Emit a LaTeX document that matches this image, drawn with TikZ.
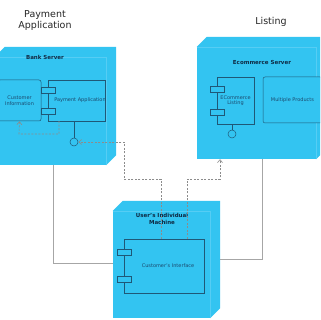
\documentclass[tikz,border=0pt]{standalone}
\usepackage{fontspec}
\setmainfont{DejaVu Sans}
\definecolor{nodecyan}{HTML}{33C4F1}
\definecolor{faintcyan}{HTML}{55CDF4}
\definecolor{compblue}{HTML}{1F5877}
\definecolor{textblue}{HTML}{1C4A6E}
\definecolor{darknavy}{HTML}{0E2A44}
\definecolor{linkgray}{HTML}{A6A6A6}
\definecolor{depgray}{HTML}{8C8C8C}
\usetikzlibrary{positioning,arrows.meta}

\begin{document}
\begin{tikzpicture}[x=1pt, y=-1pt,
        srv/.style={fill=nodecyan, inner sep=0pt},
        face/.style={draw=faintcyan, line width=0.4pt},
        comp/.style={draw=compblue, fill=nodecyan, line width=0.5pt,
                     inner sep=0pt, align=center, text=textblue,
                     font=\fontsize{5}{5.5}\selectfont},
        rbox/.style={comp, rounded corners=2pt},
        port/.style={draw=compblue, fill=nodecyan, line width=0.5pt,
                     minimum width=14pt, minimum height=6pt, inner sep=0pt},
        lolli/.style={circle, draw=compblue, fill=nodecyan, line width=0.5pt,
                      minimum size=8pt, inner sep=0pt},
        lbl/.style={align=center, text=darknavy,
                    font=\fontsize{5.5}{7}\selectfont\bfseries},
        ttl/.style={align=center, text=black!85,
                    font=\fontsize{9.5}{11}\selectfont},
        link/.style={draw=linkgray, line width=0.8pt},
        dep/.style={draw=depgray, line width=0.6pt, dash pattern=on 2pt off 1.5pt},
        arr/.style={dep, -{Straight Barb[length=3pt, width=5pt]}}
      ]
        \useasboundingbox (0,0) rectangle (320,320);
        \fill[white] (0,0) rectangle (320,320);
        \clip (0,0) rectangle (320,320);

        % titles
        \node[ttl] (paytitle) at (45,21) {Payment\\Application};
        \node[ttl] (listtitle) at (271,22) {Listing};

        % servers
        \node[srv, minimum width=111pt, minimum height=108pt] (bank) at (50.5,111) {};
        \node[srv, minimum width=119pt, minimum height=112pt] (shop) at (256.5,103) {};
        \node[srv, minimum width=97pt, minimum height=107pt] (pc) at (161.5,264.5) {};
        \foreach \s in {bank,shop,pc} {
          \fill[nodecyan] (\s.north west) -- ++(10,-10)
            -| ([shift={(10,-10)}]\s.south east) -- (\s.south east) -- cycle;
          \draw[face] (\s.north west) -- (\s.north east) -- (\s.south east);
        }
        \node[lbl] (banklbl) at (45,57) {Bank Server};
        \node[lbl] (shoplbl) at (262,63) {Ecommerce Server};
        \node[lbl] (pclbl) at (162,219) {User's Individual\\Machine};

        % components
        \node[rbox, minimum width=43pt, minimum height=41pt] (cinfo) at (19.5,100.5)
          {Customer\\Information};
        \node[comp, minimum width=56pt, minimum height=41pt] (papp) at (77,100.5)
          {\hspace{6pt}Payment Application};
        \node[port] (pp1) at ([yshift=10.5pt]papp.west) {};
        \node[port] (pp2) at ([yshift=-10.5pt]papp.west) {};
        \node[lolli] (plol) at (74,142) {};
        \draw[draw=compblue, line width=0.5pt] (papp.south -| plol) -- (plol);

        \node[comp, minimum width=37pt, minimum height=47pt] (elist) at (235.5,100.5)
          {ECommerce\\Listing};
        \node[port] (ep1) at ([yshift=11.5pt]elist.west) {};
        \node[port] (ep2) at ([yshift=-11.5pt]elist.west) {};
        \node[lolli] (elol) at (232,134) {};
        \draw[draw=compblue, line width=0.5pt] (elist.south -| elol) -- (elol);
        \node[rbox, minimum width=59pt, minimum height=46pt] (mprod) at (292.5,100)
          {Multiple Products};

        \node[comp, minimum width=80pt, minimum height=54pt] (cui) at (164,266)
          {\hspace{8pt}Customer's Interface};
        \node[port] (cp1) at ([yshift=13.5pt]cui.west) {};
        \node[port] (cp2) at ([yshift=-13pt]cui.west) {};

        % connectors
        \draw[link] (bank.south -| 53,0) |- (pc.west |- 0,263);
        \draw[link] (shop.south -| 262,0) |- ([xshift=10pt]pc.east |- 0,259);
        \draw[arr] (papp.south -| 59,0) |- (19,134) -- (cinfo.south);
        \draw[arr] (cui.north -| 161,0) -- (161,179) -| (124,142) -- (plol);
        \draw[arr] (cui.north -| 187,0) -- (187,179) -| (shop.south -| 220,0);
      \end{tikzpicture}
\end{document}
